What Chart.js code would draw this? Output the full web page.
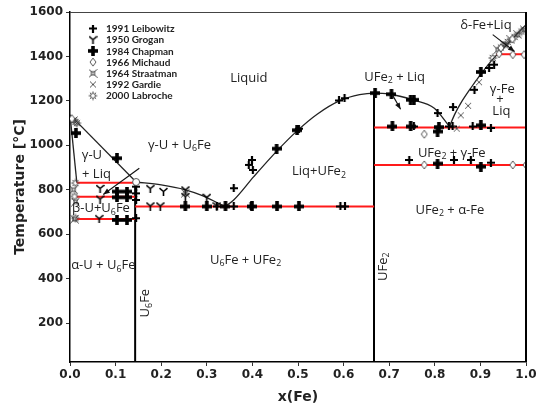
<!DOCTYPE html>
<html>
<head>
<meta charset="utf-8">
<script src="https://cdn.jsdelivr.net/npm/chart.js@4.4.1/dist/chart.umd.min.js"></script>
<style>
  html, body { margin: 0; padding: 0; background: #fff; }
  #wrap { width: 545px; height: 406px; }
</style>
</head>
<body>
<div id="wrap"><canvas id="phase" width="545" height="406"></canvas></div>
<script>
// axis ticks
const tempTicks = [200, 400, 600, 800, 1000, 1200, 1400, 1600];

// horizontal invariant lines (red)
const isoT  = [832, 769, 668, 725, 1080, 912, 1410];
const isoX0 = [0.015, 0.015, 0.015, 0.143, 0.667, 0.667, 0.935];
const isoX1 = [0.143, 0.143, 0.143, 0.667, 1.0, 1.0, 1.0];

// compounds U6Fe and UFe2 (vertical lines)
const compX   = [1 / 7, 2 / 3];
const compTop = [835, 1235];

// liquidus / solidus curves
const liqUx = [0, 0.145],            liqUt = [1137, 835];
const solUx = [0, 0.015],            solUt = [1137, 832];
const liqAx = [0.145, 0.2, 0.253, 0.286, 0.34];
const liqAt = [835, 822, 800, 777, 725];
const liqBx = [0.34, 0.359, 0.403, 0.454, 0.498, 0.542, 0.593, 0.635, 0.667, 0.70, 0.751, 0.799, 0.832];
const liqBt = [725, 754, 859, 975, 1065, 1140, 1202, 1228, 1235, 1231, 1205, 1167, 1085];
const liqCx = [0.832, 0.845, 0.857, 0.879, 0.901, 0.923, 0.95, 0.975, 1.0];
const liqCt = [1085, 1145, 1190, 1258, 1320, 1378, 1435, 1490, 1543];

// peritectic point of U6Fe
const peritX = [0.145], peritT = [835];

// experimental points
const leibX = [0.145, 0.145, 0.145, 0.145, 0.322, 0.359, 0.396, 0.593, 0.603,
  0.359, 0.392, 0.399, 0.401, 0.502, 0.59, 0.602,
  0.806, 0.754, 0.831, 0.839, 0.883, 0.923,
  0.84, 0.887, 0.919, 0.93, 0.744, 0.842, 0.879, 0.923];
const leibT = [814, 784, 754, 672, 725, 725, 725, 725, 725,
  807, 912, 934, 889, 1075, 1202, 1212,
  1145, 1085, 1085, 1085, 1085, 1078,
  1172, 1250, 1348, 1363, 934, 934, 934, 922];

const grogX = [0.066, 0.066, 0.064, 0.176, 0.205, 0.176, 0.198, 0.253, 0.253, 0.30, 0.322];
const grogT = [806, 758, 670, 805, 792, 727, 727, 799, 769, 766, 727];

const chapX = [0.013, 0.103, 0.103, 0.125, 0.103, 0.125, 0.103, 0.125,
  0.253, 0.300, 0.341, 0.399, 0.454, 0.502,
  0.453, 0.498, 0.669, 0.705, 0.747, 0.754,
  0.707, 0.747, 0.809, 0.806, 0.901, 0.901, 0.806, 0.901];
const chapT = [1055, 942, 792, 792, 766, 766, 664, 664,
  725, 725, 725, 725, 725, 725,
  985, 1068, 1235, 1230, 1205, 1205,
  1085, 1085, 1082, 1062, 1090, 1330, 918, 904];

const michX = [0.004, 0.777, 0.777, 0.971, 1.0, 0.941, 0.971, 0.996, 0.945, 0.97];
const michT = [1120, 1050, 912, 912, 912, 1412, 1408, 1408, 1438, 1478];

const straX = [0.008, 0.008, 0.012, 0.01, 0.938, 0.952, 0.967, 0.982, 0.996, 0.253];
const straT = [1112, 800, 745, 668, 1430, 1453, 1475, 1498, 1520, 785];

const gardX = [0.897, 0.873, 0.857, 0.848, 0.955];
const gardT = [1284, 1178, 1135, 1075, 1455];

const labrX = [0.012, 0.012, 0.01, 0.012, 0.927, 0.945, 0.96, 0.975, 0.99, 0.015];
const labrT = [1105, 830, 770, 672, 1393, 1440, 1465, 1488, 1512, 1100];

// arrows [x0, T0, x1, T1]
const arrows = [
  [0.152, 897, 0.073, 779],
  [0.707, 1227, 0.725, 1162],
  [0.927, 1498, 0.975, 1422]
];

// ---- marker images ----
function mk(w, h, draw) {
  const c = document.createElement('canvas');
  c.width = w; c.height = h;
  draw(c.getContext('2d'));
  return c;
}
const mLeib = mk(8, 8, g => {
  g.strokeStyle = '#000'; g.lineWidth = 2.2;
  g.beginPath(); g.moveTo(4, 0); g.lineTo(4, 8); g.moveTo(0, 4); g.lineTo(8, 4); g.stroke();
});
const mGrog = mk(9, 9, g => {
  g.strokeStyle = '#000'; g.lineWidth = 1.6;
  g.beginPath();
  g.moveTo(4.5, 4.5); g.lineTo(4.5, 9);
  g.moveTo(4.5, 4.5); g.lineTo(0.5, 1.2);
  g.moveTo(4.5, 4.5); g.lineTo(8.5, 1.2);
  g.stroke();
});
const mChap = mk(10, 10, g => {
  g.fillStyle = '#000';
  g.fillRect(3.2, 0, 3.6, 10); g.fillRect(0, 3.2, 10, 3.6);
});
const mMich = mk(8, 10, g => {
  g.strokeStyle = '#555'; g.lineWidth = 1; g.fillStyle = '#fff';
  g.beginPath(); g.moveTo(4, 1); g.lineTo(7, 5); g.lineTo(4, 9); g.lineTo(1, 5); g.closePath();
  g.fill(); g.stroke();
});
const mStra = mk(9, 9, g => {
  g.strokeStyle = '#333'; g.lineWidth = 1;
  g.strokeRect(3, 3, 3, 3);
  g.beginPath();
  g.moveTo(0.5, 0.5); g.lineTo(3, 3); g.moveTo(8.5, 0.5); g.lineTo(6, 3);
  g.moveTo(0.5, 8.5); g.lineTo(3, 6); g.moveTo(8.5, 8.5); g.lineTo(6, 6);
  g.stroke();
});
const mGard = mk(8, 8, g => {
  g.strokeStyle = '#555'; g.lineWidth = 1;
  g.beginPath(); g.moveTo(1, 1); g.lineTo(7, 7); g.moveTo(7, 1); g.lineTo(1, 7); g.stroke();
});
const mLabr = mk(10, 10, g => {
  g.strokeStyle = '#555'; g.lineWidth = 1;
  g.beginPath(); g.arc(5, 5, 2.4, 0, Math.PI * 2); g.stroke();
  g.beginPath();
  for (let i = 0; i < 8; i++) {
    const a = i * Math.PI / 4;
    g.moveTo(5 + 2.4 * Math.cos(a), 5 + 2.4 * Math.sin(a));
    g.lineTo(5 + 4.4 * Math.cos(a), 5 + 4.4 * Math.sin(a));
  }
  g.stroke();
});

const zip = (xs, ys) => xs.map((x, i) => ({ x: x, y: ys[i] }));

function lineSet(xs, ys, color, width, smooth) {
  return {
    data: zip(xs, ys), showLine: true, pointRadius: 0, borderColor: color,
    borderWidth: width, cubicInterpolationMode: smooth ? 'monotone' : 'default',
    tension: 0, order: 2
  };
}
function markSet(label, xs, ys, img) {
  return { label: label, data: zip(xs, ys), pointStyle: img, pointRadius: 5, showLine: false, order: 1 };
}

const datasets = [];
isoT.forEach((t, i) => datasets.push(lineSet([isoX0[i], isoX1[i]], [t, t], '#ff1a1a', 2, false)));
compX.forEach((x, i) => datasets.push(lineSet([x, x], [25, compTop[i]], '#000', 2, false)));
datasets.push(lineSet(liqUx, liqUt, '#222', 1.3, false));
datasets.push(lineSet(solUx, solUt, '#222', 1.3, false));
datasets.push(lineSet(liqAx, liqAt, '#222', 1.3, true));
datasets.push(lineSet(liqBx, liqBt, '#222', 1.3, true));
datasets.push(lineSet(liqCx, liqCt, '#222', 1.3, true));

const legendItems = [
  ['1991 Leibowitz', mLeib], ['1950 Grogan', mGrog], ['1984 Chapman', mChap],
  ['1966 Michaud', mMich], ['1964 Straatman', mStra], ['1992 Gardie', mGard],
  ['2000 Labroche', mLabr]
];
datasets.push(markSet('1966 Michaud', michX, michT, mMich));
datasets.push(markSet('1964 Straatman', straX, straT, mStra));
datasets.push(markSet('1992 Gardie', gardX, gardT, mGard));
datasets.push(markSet('2000 Labroche', labrX, labrT, mLabr));
datasets.push(markSet('1950 Grogan', grogX, grogT, mGrog));
datasets.push(markSet('1991 Leibowitz', leibX, leibT, mLeib));
datasets.push(markSet('1984 Chapman', chapX, chapT, mChap));
datasets.push({
  data: zip(peritX, peritT), pointStyle: 'circle', pointRadius: 3.5,
  backgroundColor: '#fff', borderColor: '#555', borderWidth: 1, showLine: false, order: 0
});

// region labels: [parts, x, T, rotated]
const regionLabels = [
  [[['Liquid']], 0.392, 1303],
  [[['γ-U + U'], ['6', 1], ['Fe']], 0.240, 1002],
  [[['γ-U']], 0.048, 957],
  [[['+ Liq']], 0.058, 871],
  [[['β-U+U'], ['6', 1], ['Fe']], 0.068, 717],
  [[['α-U + U'], ['6', 1], ['Fe']], 0.073, 461],
  [[['U'], ['6', 1], ['Fe']], 0.165, 290, true],
  [[['U'], ['6', 1], ['Fe + UFe'], ['2', 1]], 0.385, 484],
  [[['Liq+UFe'], ['2', 1]], 0.546, 882],
  [[['UFe'], ['2', 1]], 0.686, 454, true],
  [[['UFe'], ['2', 1], [' + Liq']], 0.712, 1308],
  [[['δ-Fe+Liq']], 0.912, 1540],
  [[['γ-Fe']], 0.948, 1250],
  [[['+']], 0.943, 1205],
  [[['Liq']], 0.946, 1152],
  [[['UFe'], ['2', 1], [' + γ-Fe']], 0.837, 966],
  [[['UFe'], ['2', 1], [' + α-Fe']], 0.833, 709]
];

const LBL = 13;
function richWidth(ctx, parts) {
  let w = 0;
  parts.forEach(p => {
    ctx.font = (p[1] ? LBL * 0.68 : LBL) + 'px "Open Sans"';
    w += ctx.measureText(p[0]).width;
  });
  return w;
}
function drawRich(ctx, parts, cx, cy) {
  const w = richWidth(ctx, parts);
  let x = cx - w / 2;
  ctx.textBaseline = 'middle';
  ctx.textAlign = 'left';
  parts.forEach(p => {
    ctx.font = (p[1] ? LBL * 0.68 : LBL) + 'px "Open Sans"';
    ctx.fillText(p[0], x, p[1] ? cy + LBL * 0.3 : cy);
    x += ctx.measureText(p[0]).width;
  });
}

const overlay = {
  id: 'overlay',
  afterDatasetsDraw(chart) {
    const ctx = chart.ctx, xs = chart.scales.x, ys = chart.scales.y, a = chart.chartArea;
    ctx.save();
    // frame top and right
    ctx.strokeStyle = '#444'; ctx.lineWidth = 1;
    ctx.beginPath(); ctx.moveTo(a.left, a.top + 0.5); ctx.lineTo(a.right, a.top + 0.5); ctx.stroke();
    ctx.strokeStyle = '#000'; ctx.lineWidth = 2;
    ctx.beginPath(); ctx.moveTo(a.right, a.top); ctx.lineTo(a.right, a.bottom); ctx.stroke();

    // arrows
    ctx.strokeStyle = '#111'; ctx.fillStyle = '#111'; ctx.lineWidth = 1.1;
    arrows.forEach(r => {
      const x0 = xs.getPixelForValue(r[0]), y0 = ys.getPixelForValue(r[1]);
      const x1 = xs.getPixelForValue(r[2]), y1 = ys.getPixelForValue(r[3]);
      const ang = Math.atan2(y1 - y0, x1 - x0);
      ctx.beginPath(); ctx.moveTo(x0, y0); ctx.lineTo(x1, y1); ctx.stroke();
      ctx.beginPath();
      ctx.moveTo(x1, y1);
      ctx.lineTo(x1 - 7 * Math.cos(ang - 0.38), y1 - 7 * Math.sin(ang - 0.38));
      ctx.lineTo(x1 - 7 * Math.cos(ang + 0.38), y1 - 7 * Math.sin(ang + 0.38));
      ctx.closePath(); ctx.fill();
    });

    // region labels
    ctx.fillStyle = '#222';
    regionLabels.forEach(l => {
      const px = xs.getPixelForValue(l[1]), py = ys.getPixelForValue(l[2]);
      if (l[3]) {
        ctx.save(); ctx.translate(px, py); ctx.rotate(-Math.PI / 2);
        drawRich(ctx, l[0], 0, 0); ctx.restore();
      } else {
        drawRich(ctx, l[0], px, py);
      }
    });

    // legend
    ctx.fillStyle = '#222';
    ctx.font = 'bold 10px Lato';
    ctx.textBaseline = 'middle'; ctx.textAlign = 'left';
    legendItems.forEach((it, i) => {
      const y = 28.5 + i * 11.2;
      const img = it[1];
      ctx.drawImage(img, 93 - img.width / 2, y - img.height / 2);
      ctx.fillText(it[0], 106, y + 0.5);
    });
    ctx.restore();
  }
};

const tickFont = { family: 'DejaVu Sans', size: 12, weight: 'bold' };
const titleFont = { family: 'DejaVu Sans', size: 14, weight: 'bold' };

new Chart(document.getElementById('phase'), {
  type: 'scatter',
  data: { datasets: datasets },
  options: {
    responsive: false,
    animation: false,
    devicePixelRatio: 1,
    layout: { padding: { top: 12, right: 19, bottom: 0, left: 0 } },
    plugins: { legend: { display: false }, tooltip: { enabled: false } },
    scales: {
      x: {
        type: 'linear', min: 0, max: 1,
        ticks: { stepSize: 0.1, callback: v => v.toFixed(1), font: tickFont, color: '#222', padding: 2, maxRotation: 0 },
        grid: { display: true, drawOnChartArea: false, drawTicks: true, tickLength: 4, color: '#333' },
        border: { color: '#000', width: 1.5 },
        title: { display: true, text: 'x(Fe)', font: titleFont, color: '#222', padding: { top: 3, bottom: 0 } },
        afterFit: s => { s.height = 44; }
      },
      y: {
        type: 'linear', min: 25, max: 1600,
        afterBuildTicks: s => { s.ticks = tempTicks.map(v => ({ value: v })); },
        ticks: { font: tickFont, color: '#222', padding: 3, callback: v => String(v) },
        grid: { display: true, drawOnChartArea: false, drawTicks: true, tickLength: 4, color: '#333' },
        border: { color: '#000', width: 1.5 },
        title: { display: true, text: 'Temperature [°C]', font: titleFont, color: '#222', padding: { top: 12, bottom: 0 } },
        afterFit: s => { s.width = 70; }
      }
    }
  },
  plugins: [overlay]
});
</script>
</body>
</html>
